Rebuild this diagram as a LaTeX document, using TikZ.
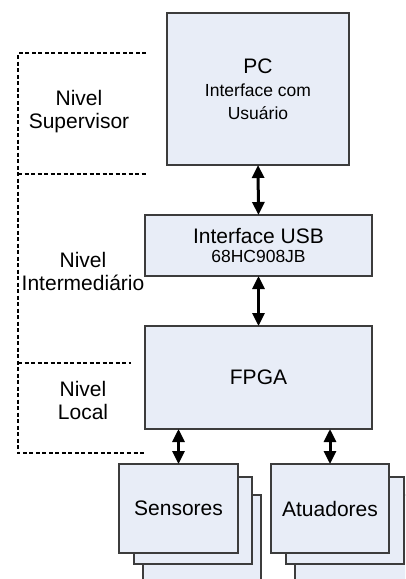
\documentclass[tikz,border=0pt]{standalone}
\usepackage{fontspec}
\setmainfont{Liberation Sans}
\usepackage{tikz}
\usetikzlibrary{arrows.meta,positioning,calc}
\usepackage{xcolor}
\definecolor{boxfill}{HTML}{E8EDF7}
\definecolor{boxline}{HTML}{3C3C3C}

\tikzset{
  blockbox/.style={draw=boxline, fill=boxfill, line width=1.2pt, inner sep=0pt, outer sep=0pt, align=center},
  levelline/.style={dash pattern=on 4pt off 2.5pt, line width=1.6pt},
  linkarrow/.style={{Triangle[length=13pt,width=12pt]}-{Triangle[length=13pt,width=12pt]}, line width=3pt},
  levellabel/.style={align=center, font=\fontsize{21}{23}\selectfont}
}

\begin{document}
\begin{tikzpicture}[x=1pt, y=-1pt]
  \clip (0,0) rectangle (405,579);
  \fill[white] (0,0) rectangle (405,579);

  % level brackets
  \draw[levelline] (146,53) -- (18,53) -- (18,453) -- (146,453);
  \draw[levelline] (18,174) -- (146,174);
  \draw[levelline] (18,363) -- (131,363);
  \node[levellabel] (supervisor) at (79,112) {Nivel\\Supervisor};
  \node[levellabel] (intermed) at (83,271) {Nivel\\Intermediário};
  \node[levellabel] (local) at (83,400) {Nivel\\Local};

  % blocks
  \node[blockbox, minimum width=182pt, minimum height=152pt, font=\fontsize{17.5}{23}\selectfont] (pc) at (258,89)
    {{\fontsize{21}{23}\selectfont PC}\\Interface com\\Usuário};
  \node[blockbox, minimum width=227pt, minimum height=61pt, font=\fontsize{17.5}{19.5}\selectfont] (usb) at (258.5,245.5)
    {{\fontsize{21}{19.5}\selectfont Interface USB}\\68HC908JB};
  \node[blockbox, minimum width=227pt, minimum height=103pt, font=\fontsize{21}{24}\selectfont] (fpga) at (258.5,377.5) {FPGA};

  % stacked device blocks
  \node[blockbox, minimum width=118pt, minimum height=95pt] (sensC) at (202,542.5) {};
  \node[blockbox, minimum width=118pt, minimum height=87pt] (sensB) at (193,520.5) {};
  \node[blockbox, minimum width=119pt, minimum height=89pt, font=\fontsize{21}{24}\selectfont] (sens) at (178.5,508.5) {Sensores};
  \node[blockbox, minimum width=118pt, minimum height=95pt] (atuaC) at (354,542.5) {};
  \node[blockbox, minimum width=118pt, minimum height=87pt] (atuaB) at (345,520.5) {};
  \node[blockbox, minimum width=118pt, minimum height=89pt, font=\fontsize{21}{24}\selectfont] (atua) at (330,508.5) {Atuadores};

  % links
  \draw[linkarrow] (pc.south) -- (usb.north);
  \draw[linkarrow] (usb.south) -- (fpga.north);
  \draw[linkarrow] (sens.north |- fpga.south) -- (sens.north);
  \draw[linkarrow] (atua.north |- fpga.south) -- (atua.north);
\end{tikzpicture}
\end{document}
